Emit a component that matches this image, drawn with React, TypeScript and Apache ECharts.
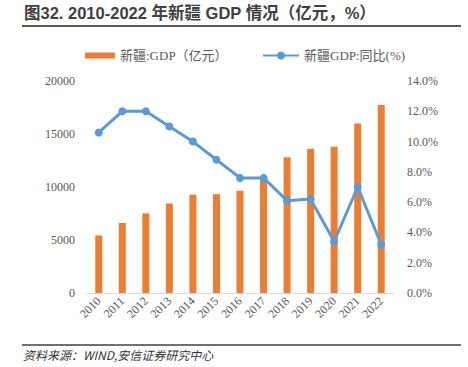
import React, { useEffect, useRef } from "react";
import * as echarts from "echarts";

const years = ["2010","2011","2012","2013","2014","2015","2016","2017","2018","2019","2020","2021","2022"];
const gdp = [5437, 6610, 7505, 8443, 9273, 9325, 9650, 10882, 12809, 13597, 13798, 15984, 17741];
const growth = [10.6, 12.0, 12.0, 11.0, 10.0, 8.8, 7.6, 7.6, 6.1, 6.2, 3.4, 7.0, 3.2];
const leftTicks = [0, 20000, 5000];
const rightTicks = [0, 14, 2];

const SERIF = "'Liberation Serif', 'Noto Sans CJK SC', serif";

export default function App() {
  const ref = useRef<HTMLDivElement>(null);
  useEffect(() => {
    if (!ref.current) return;
    const chart = echarts.init(ref.current, null, { renderer: "svg" });
    chart.setOption({
      animation: false,
      backgroundColor: "#ffffff",
      grid: { left: 87, right: 75, top: 81, bottom: 74 },
      legend: [
        {
          left: 80,
          top: 44,
          textStyle: { fontFamily: SERIF, fontSize: 13, color: "#595959" },
          data: [{ name: "新疆:GDP（亿元）", icon: "rect", itemStyle: { color: "#ED7D31" } }],
          itemWidth: 30,
          itemHeight: 6,
          itemGap: 4,
        },
        {
          left: 257,
          top: 44,
          textStyle: { fontFamily: SERIF, fontSize: 13, color: "#595959" },
          data: [{ name: "新疆GDP:同比(%)" }],
          itemWidth: 36,
          itemHeight: 10,
        },
      ],
      xAxis: {
        type: "category",
        data: years,
        axisLine: { lineStyle: { color: "#D9D9D9", width: 1 } },
        axisTick: { show: false },
        axisLabel: { rotate: 45, fontFamily: SERIF, fontSize: 12, color: "#595959", margin: 6, interval: 0 },
      },
      yAxis: [
        {
          type: "value",
          min: leftTicks[0],
          max: leftTicks[1],
          interval: leftTicks[2],
          splitLine: { show: false },
          axisLine: { show: false },
          axisTick: { show: false },
          axisLabel: {
            fontFamily: SERIF,
            fontSize: 12,
            color: "#595959",
            margin: 12,
            formatter: (v: number) => String(v),
          },
        },
        {
          type: "value",
          min: rightTicks[0],
          max: rightTicks[1],
          interval: rightTicks[2],
          splitLine: { show: false },
          axisLine: { show: false },
          axisTick: { show: false },
          axisLabel: {
            fontFamily: SERIF,
            fontSize: 12,
            color: "#595959",
            margin: 14,
            formatter: (v: number) => v.toFixed(1) + "%",
          },
        },
      ],
      series: [
        {
          name: "新疆:GDP（亿元）",
          type: "bar",
          data: gdp,
          barWidth: 7,
          itemStyle: { color: "#ED7D31" },
        },
        {
          name: "新疆GDP:同比(%)",
          type: "line",
          yAxisIndex: 1,
          data: growth,
          symbol: "circle",
          symbolSize: 8,
          lineStyle: { color: "#5B9BD5", width: 3 },
          itemStyle: { color: "#5B9BD5" },
        },
      ],
      graphic: [
        {
          type: "text",
          left: 24,
          top: 5,
          style: {
            text: "图32. 2010-2022 年新疆 GDP 情况（亿元，%）",
            fontFamily: "'Liberation Sans', 'Noto Sans CJK SC', sans-serif",
            fontWeight: "bold",
            fontSize: 16.5,
            fill: "#404040",
          },
        },
        {
          type: "line",
          shape: { x1: 22, y1: 26, x2: 461, y2: 26 },
          style: { stroke: "#595959", lineWidth: 2 },
        },
        {
          type: "line",
          shape: { x1: 22, y1: 345, x2: 461, y2: 345 },
          style: { stroke: "#404040", lineWidth: 1.5 },
        },
        {
          type: "text",
          left: 23,
          top: 348,
          style: {
            text: "资料来源：WIND,安信证券研究中心",
            fontFamily: "'Noto Sans CJK SC', sans-serif",
            fontStyle: "italic",
            fontSize: 12,
            fill: "#333333",
          },
        },
      ],
    });
    return () => chart.dispose();
  }, []);
  return (
    <div
      ref={ref}
      style={{ position: "fixed", left: 0, top: 0, width: 468, height: 367 }}
    />
  );
}
